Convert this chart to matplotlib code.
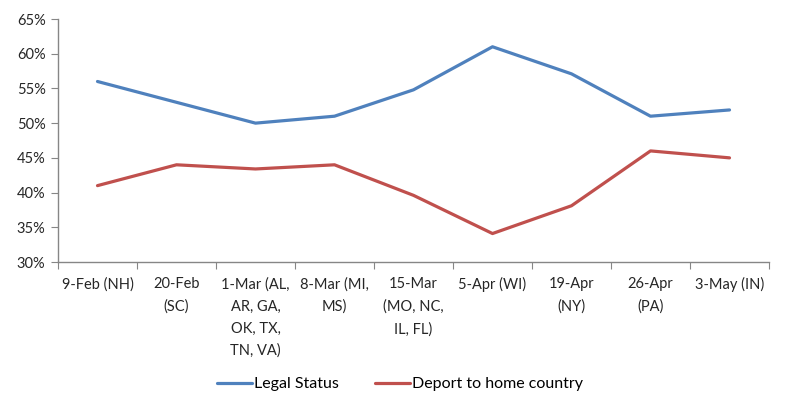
import matplotlib.pyplot as plt
import numpy as np
from matplotlib.ticker import PercentFormatter

categories = ["9-Feb (NH)", "20-Feb\n(SC)", "1-Mar (AL,\nAR, GA,\nOK, TX,\nTN, VA)",
              "8-Mar (MI,\nMS)", "15-Mar\n(MO, NC,\nIL, FL)", "5-Apr (WI)",
              "19-Apr\n(NY)", "26-Apr\n(PA)", "3-May (IN)"]
legal_status = [56, 53, 50, 51, 54.8, 61, 57.1, 51, 51.9]
deport = [41, 44, 43.4, 44, 39.6, 34.1, 38.1, 46, 45]

plt.rcParams['font.family'] = ['Lato', 'DejaVu Sans']
fig = plt.figure(figsize=(7.9, 4.12), dpi=100)
ax = fig.add_axes([58/790, 1-262/412, (769-58)/790, (262-19)/412])

x = np.arange(len(categories))
ax.plot(x, legal_status, color='#4F81BD', lw=2.3, label='Legal Status', solid_capstyle='round')
ax.plot(x, deport, color='#C0504D', lw=2.3, label='Deport to home country', solid_capstyle='round')

ax.set_xlim(-0.5, len(categories) - 0.5)
ax.set_ylim(30, 65)
ax.set_yticks(np.arange(30, 66, 5))
ax.yaxis.set_major_formatter(PercentFormatter(decimals=0))

ax.set_xticks(np.arange(-0.5, len(categories), 1))
ax.set_xticklabels([])
ax.set_xticks(x, minor=True)
ax.set_xticklabels(categories, minor=True, linespacing=1.72)
ax.tick_params(axis='x', which='minor', length=0, pad=11, labelsize=10.5, colors='#262626')
ax.tick_params(axis='x', which='major', length=5, direction='out', color='#868686')
ax.tick_params(axis='y', length=5, direction='out', color='#868686', labelsize=10.5,
               labelcolor='#262626', pad=4)
for lab in ax.get_xticklabels(minor=True):
    lab.set_verticalalignment('top')

for s in ['top', 'right']:
    ax.spines[s].set_visible(False)
for s in ['left', 'bottom']:
    ax.spines[s].set_color('#868686')
    ax.spines[s].set_linewidth(1)

fig.legend(loc='center', bbox_to_anchor=(400/790, 1-384/412), ncol=2, frameon=False,
           fontsize=11.5, handlelength=2.2, handletextpad=0.15, columnspacing=2.2)

fig.savefig('out.png', dpi=100)
